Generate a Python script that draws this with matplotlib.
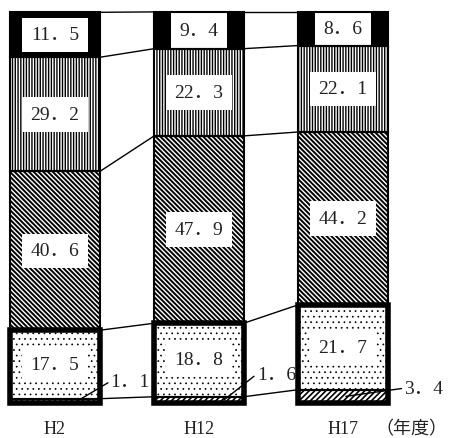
import numpy as np
import matplotlib
matplotlib.use("Agg")
import matplotlib.pyplot as plt

# Share (%) by fiscal year, stacked from the bottom segment upward
years = ["H2", "H12", "H17"]
seg_strip = [1.1, 1.6, 3.4]
seg_dotted = [17.5, 18.8, 21.7]
seg_diag = [40.6, 47.9, 44.2]
seg_vert = [29.2, 22.3, 22.1]
seg_black = [11.5, 9.4, 8.6]
unit_label = "（年度）"

FONT = ["Liberation Serif", "Noto Sans CJK JP"]

fig = plt.figure(figsize=(4.49, 4.39), dpi=100)
ax = fig.add_axes([0, 0, 1, 1])
ax.axis("off")
ax.set_xlim(-0.382, 2.736)
ax.set_ylim(-8.95, 103.3)

x = np.arange(len(years))
W = 0.622

# (values, face colour, hatch pattern, hatch line width)
segments = [
    (seg_strip, "white", "//////", 1.2),
    (seg_dotted, "white", "...", 0.5),
    (seg_diag, "white", "\\\\\\\\\\\\\\", 1.4),
    (seg_vert, "white", "||||||", 1.0),
    (seg_black, "black", None, 1.0),
]

bottom = np.zeros(len(years))
tops = []
for vals, face, hatch, hlw in segments:
    vals = np.asarray(vals, dtype=float)
    with plt.rc_context({"hatch.linewidth": hlw}):
        ax.bar(x, vals, width=W, bottom=bottom, color=face, hatch=hatch,
               edgecolor="black", linewidth=0, zorder=1)
    ax.bar(x, vals, width=W, bottom=bottom, fill=False,
           edgecolor="black", linewidth=1.5, zorder=3)
    bottom = bottom + vals
    tops.append(bottom.copy())

# connector lines between neighbouring bars at each segment boundary
for level in tops:
    for i in range(len(years) - 1):
        ax.plot([x[i] + W / 2, x[i + 1] - W / 2], [level[i], level[i + 1]],
                color="black", lw=1.0, zorder=2)

# heavy frame around the two lowest segments
ax.bar(x, np.asarray(seg_strip) + np.asarray(seg_dotted), width=W,
       fill=False, edgecolor="black", linewidth=4, zorder=4)


def fmt(v):
    return f"{v:.1f}".replace(".", "．")


# value labels centred in the larger segments
lower = np.asarray(seg_strip, dtype=float)
for vals in [seg_dotted, seg_diag, seg_vert, seg_black]:
    for i, v in enumerate(vals):
        ax.text(x[i], lower[i] + v / 2, fmt(v), ha="center", va="center",
                fontsize=14, family=FONT, color="#222222", zorder=2,
                bbox=dict(boxstyle="square,pad=0.45", fc="white", ec="none"))
    lower = lower + np.asarray(vals)

# leader-line labels for the thin bottom strip
leader_from = [(0.16, 0.6), (0.174, 0.8), (0.02, 1.7)]
label_at = [(0.523, 5.6), (0.537, 7.4), (0.561, 3.8)]
for i, v in enumerate(seg_strip):
    ax.annotate(fmt(v), xy=(x[i] + leader_from[i][0], leader_from[i][1]),
                xytext=(x[i] + label_at[i][0], label_at[i][1]),
                ha="center", va="center", fontsize=14, family=FONT,
                color="#222222", zorder=5,
                arrowprops=dict(arrowstyle="-", lw=1.0, color="black",
                                shrinkA=0, shrinkB=0, relpos=(0, 0.5)))

# category labels under the bars
for i, name in enumerate(years):
    ax.text(x[i], -6.5, name, ha="center", va="center", fontsize=13,
            family=FONT, color="#222222")
ax.text(2.475, -6.5, unit_label, ha="center", va="center", fontsize=13,
        family=FONT, color="#222222")

fig.savefig("out.png", dpi=100, facecolor="white")
